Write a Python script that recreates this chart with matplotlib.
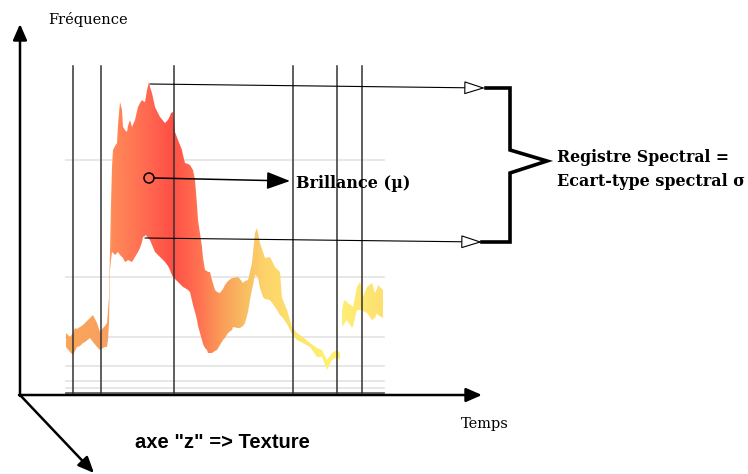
import numpy as np
import matplotlib
matplotlib.use("Agg")
import matplotlib.pyplot as plt
from matplotlib.path import Path
from matplotlib.patches import PathPatch, Circle
from matplotlib.colors import LinearSegmentedColormap

# ---- data (time position, upper / lower frequency envelope) ----
seg1_t = [66, 70, 73, 75, 77, 80, 83, 85, 90, 93, 97, 100, 103, 105, 107, 108, 109, 110, 111,
          112, 113, 115, 117, 118, 120, 122, 123, 125, 127, 128, 130, 132, 135, 138, 140, 142,
          143, 145, 146, 147, 149, 150, 152, 155, 160, 165, 168, 170, 171, 173, 175, 178, 182,
          183, 185, 188, 190, 193, 195, 197, 198, 202, 203, 205, 207, 208, 210, 212, 215, 217,
          220, 223, 225, 228, 232, 233, 238, 240, 243, 245, 248, 250, 252, 255, 257, 258, 260,
          263, 265, 270, 275, 277, 280, 282, 283, 287, 290, 292, 297, 303, 310, 317, 322, 327,
          332, 337, 340]
seg1_up = [333, 337, 333, 328, 329, 327, 325, 323, 318, 315, 323, 332, 328, 326, 323, 310, 297, 250, 203,
           167, 150, 146, 143, 125, 102, 110, 127, 130, 132, 126, 120, 127, 120, 107, 103, 100,
           101, 102, 96, 90, 82, 87, 93, 107, 117, 123, 120, 116, 113, 112, 132, 140, 150,
           155, 163, 164, 165, 170, 180, 205, 220, 247, 258, 270, 271, 272, 272, 280, 290, 292,
           293, 289, 285, 281, 278, 278, 277, 279, 283, 281, 280, 272, 263, 233, 228, 233, 243,
           252, 258, 257, 267, 269, 272, 298, 300, 310, 320, 327, 333, 337, 343, 348, 350, 360,
           353, 350, 353]
seg1_lo = [347, 352, 355, 351, 347, 346, 343, 342, 338, 342, 347, 350, 348, 347, 347, 340, 323, 270, 260,
           252, 253, 255, 253, 252, 255, 257, 258, 262, 261, 260, 261, 262, 257, 252, 248, 242,
           237, 236, 235, 237, 239, 240, 245, 252, 257, 262, 266, 270, 273, 277, 279, 282, 286,
           287, 288, 290, 292, 305, 312, 320, 326, 340, 344, 348, 350, 353, 353, 353, 351, 350,
           345, 340, 338, 333, 330, 327, 328, 328, 326, 323, 312, 300, 290, 275, 276, 278, 288,
           297, 299, 300, 307, 310, 315, 317, 318, 324, 330, 334, 340, 343, 347, 357, 357, 370,
           360, 357, 360]
seg2_t = [342, 344, 347, 348, 352, 353, 357, 360, 362, 363, 367, 372, 375, 377, 378, 383]
seg2_up = [310, 300, 302, 303, 306, 307, 287, 282, 290, 297, 287, 283, 293, 289, 285, 290]
seg2_lo = [327, 324, 320, 322, 328, 326, 310, 310, 310, 311, 313, 320, 318, 313, 315, 318]

vlines_t = [73, 101, 174, 293, 337, 362]
hlines_f = [160, 277, 337, 366, 381, 388]

grad_pos = [66, 108, 112, 150, 172, 200, 220, 245, 265, 300, 330, 345, 384]
grad_col = ["#F9A65A", "#F8A060", "#FF8A58", "#FF6650", "#FF4F45", "#FF7352", "#FB9A58",
            "#F8BD62", "#FDD36A", "#FDE56C", "#FFF270", "#FFEE75", "#FDE070"]

fig = plt.figure(figsize=(7.48, 4.74), dpi=100)
ax = fig.add_axes([0, 0, 1, 1])
ax.set_xlim(0, 748)
ax.set_ylim(474, 0)
ax.axis("off")

# grid lines
for f in hlines_f:
    ax.plot([66, 384], [f, f], color="#e3e3e3", lw=1.2, zorder=1)
ax.plot([66, 384], [393, 393], color="#666666", lw=1.3, zorder=1)

# gradient band clipped to envelopes
def seg_path(t, up, lo):
    verts = list(zip(t, up)) + list(zip(t[::-1], lo[::-1])) + [(t[0], up[0])]
    codes = [Path.MOVETO] + [Path.LINETO] * (len(verts) - 2) + [Path.CLOSEPOLY]
    return Path(verts, codes)

path = Path.make_compound_path(seg_path(seg1_t, seg1_up, seg1_lo),
                               seg_path(seg2_t, seg2_up, seg2_lo))
patch = PathPatch(path, fc="none", ec="none", transform=ax.transData)
ax.add_patch(patch)
lo_x, hi_x = grad_pos[0], grad_pos[-1]
cmap = LinearSegmentedColormap.from_list(
    "band", [((p - lo_x) / (hi_x - lo_x), c) for p, c in zip(grad_pos, grad_col)])
grad = np.linspace(0, 1, 400).reshape(1, -1)
im = ax.imshow(grad, cmap=cmap, extent=[lo_x, hi_x, 400, 60], aspect="auto", zorder=2,
               interpolation="bilinear")
im.set_clip_path(patch)
ax.set_xlim(0, 748)
ax.set_ylim(474, 0)

# vertical lines
for t in vlines_t:
    ax.plot([t, t], [66, 393], color="#333333", lw=1.1, zorder=3)

# main axes arrows
akw = dict(arrowstyle="-|>,head_length=0.8,head_width=0.35", mutation_scale=12,
           color="black", lw=1.8, shrinkA=0, shrinkB=0)
ax.annotate("", xy=(20, 24), xytext=(20, 396), arrowprops=akw)
ax.annotate("", xy=(482, 395), xytext=(19, 395), arrowprops=akw)
ax.annotate("", xy=(94, 473), xytext=(20, 395), arrowprops=akw)

# mean / range annotations
okw = dict(arrowstyle="-|>,head_length=1.1,head_width=0.35", mutation_scale=12,
           fc="white", ec="black", lw=0.8, shrinkA=0, shrinkB=0)
ax.annotate("", xy=(485, 88), xytext=(150, 84), arrowprops=okw, zorder=4)
ax.annotate("", xy=(482, 242), xytext=(145, 238), arrowprops=okw, zorder=4)

ax.add_patch(Circle((149, 178), 5, fc="none", ec="black", lw=1.1, zorder=5))
ax.annotate("", xy=(290, 181), xytext=(154, 178),
            arrowprops=dict(arrowstyle="-|>,head_length=1.2,head_width=0.45", mutation_scale=12,
                            color="black", lw=1.1, shrinkA=0, shrinkB=0), zorder=5)

# bracket
bx = [486, 510, 510, 547, 510, 510, 482]
by = [88, 88, 150, 161, 173, 242, 242]
ax.plot(bx, by, color="black", lw=2.6, solid_joinstyle="miter", zorder=5)

serif = "DejaVu Serif"
ax.text(48, 19, "Fréquence", fontsize=10.5, family=serif, ha="left", va="center")
ax.text(461, 424, "Temps", fontsize=10.5, family=serif, ha="left", va="center")
ax.text(135, 443, "axe \"z\" => Texture", fontsize=14.5, family="Liberation Sans",
        weight="bold", ha="left", va="center")
ax.text(296, 184, "Brillance (µ)", fontsize=11.5, family=serif, weight="bold",
        ha="left", va="center")
ax.text(557, 158, "Registre Spectral =", fontsize=11.3, family=serif, weight="bold",
        ha="left", va="center")
ax.text(557, 181, "Ecart-type spectral σ", fontsize=11.5, family=serif, weight="bold",
        ha="left", va="center")

fig.savefig("out.png", dpi=100)
